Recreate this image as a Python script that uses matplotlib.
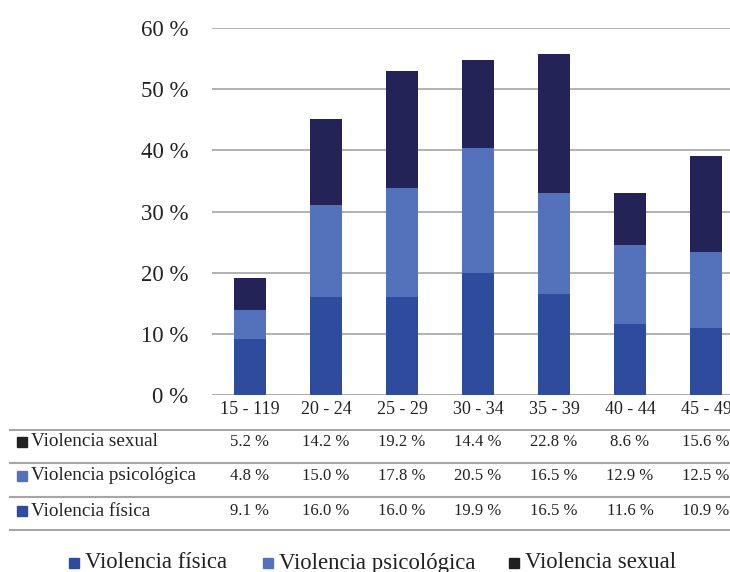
import numpy as np
import matplotlib.pyplot as plt
from matplotlib.patches import Rectangle
from matplotlib.lines import Line2D
from matplotlib.transforms import blended_transform_factory

# -------- DATA --------
age_groups = ["15 - 119", "20 - 24", "25 - 29", "30 - 34", "35 - 39", "40 - 44", "45 - 49"]
fisica = [9.1, 16.0, 16.0, 19.9, 16.5, 11.6, 10.9]
psicologica = [4.8, 15.0, 17.8, 20.5, 16.5, 12.9, 12.5]
sexual = [5.2, 14.2, 19.2, 14.4, 22.8, 8.6, 15.6]

series_names = ["Violencia física", "Violencia psicológica", "Violencia sexual"]
c_fisica = "#2F4B9E"
c_psico = "#5472BC"
c_sexual = "#242357"
c_sexual_key = "#231F20"
txt = "#222222"

plt.rcParams['font.family'] = ['Liberation Serif', 'DejaVu Serif']
W, H = 730, 572
fig = plt.figure(figsize=(W / 100, H / 100), dpi=100)

def fx(px):
    return px / W

def fy(py):
    return 1 - py / H

# plot area (right slot runs past the image edge, like the original crop)
ax = fig.add_axes([fx(212), fy(395), fx(744 - 212), (395 - 28) / H])
x = np.arange(len(age_groups))
bw = 0.41
ax.bar(x, fisica, bw, color=c_fisica, zorder=3)
ax.bar(x, psicologica, bw, bottom=fisica, color=c_psico, zorder=3)
bottom2 = np.array(fisica) + np.array(psicologica)
ax.bar(x, sexual, bw, bottom=bottom2, color=c_sexual, zorder=3)

ax.set_xlim(-0.5, len(age_groups) - 0.5)
ax.set_ylim(0, 60)
ax.set_yticks(range(0, 61, 10))
ax.set_yticklabels([f"{v} %" for v in range(0, 61, 10)], fontsize=16.5, color=txt)
ax.tick_params(axis='y', length=0, pad=17)
ax.set_xticks([])
ax.yaxis.grid(True, color="#ABABAB", linewidth=1.3, zorder=0)
ax.axhline(0, color="#ABABAB", linewidth=1.3, zorder=1)
for s in ax.spines.values():
    s.set_visible(False)

# -------- DATA TABLE --------
tr = blended_transform_factory(ax.transData, fig.transFigure)
for i, g in enumerate(age_groups):
    fig.text(i, fy(410), g, transform=tr, ha='center', va='center', fontsize=13, color=txt)

for py in [430, 463, 497, 530]:
    fig.add_artist(Line2D([fx(10), 1], [fy(py), fy(py)], color="#A6A6A6", linewidth=1.5))

rows = [("Violencia sexual", sexual, c_sexual_key),
        ("Violencia psicológica", psicologica, c_psico),
        ("Violencia física", fisica, c_fisica)]
row_y = [442, 476, 511]
for (name, vals, col), py in zip(rows, row_y):
    fig.add_artist(Rectangle((fx(17), fy(py + 5)), fx(10), 10 / H, color=col,
                             transform=fig.transFigure))
    fig.text(fx(31), fy(py), name, ha='left', va='center', fontsize=13.8, color=txt)
    for i, v in enumerate(vals):
        fig.text(i, fy(py), f"{v:.1f} %", transform=tr, ha='center', va='center',
                 fontsize=12, color=txt)

# -------- LEGEND --------
legend_keys = [(69, c_fisica), (263, c_psico), (509, c_sexual_key)]
for (px, col), name in zip(legend_keys, series_names):
    fig.add_artist(Rectangle((fx(px), fy(568)), fx(10), 10 / H, color=col,
                             transform=fig.transFigure))
    fig.text(fx(px + 16), fy(563), name, ha='left', va='center', fontsize=16.4, color=txt)

fig.savefig("out.png", dpi=100)
